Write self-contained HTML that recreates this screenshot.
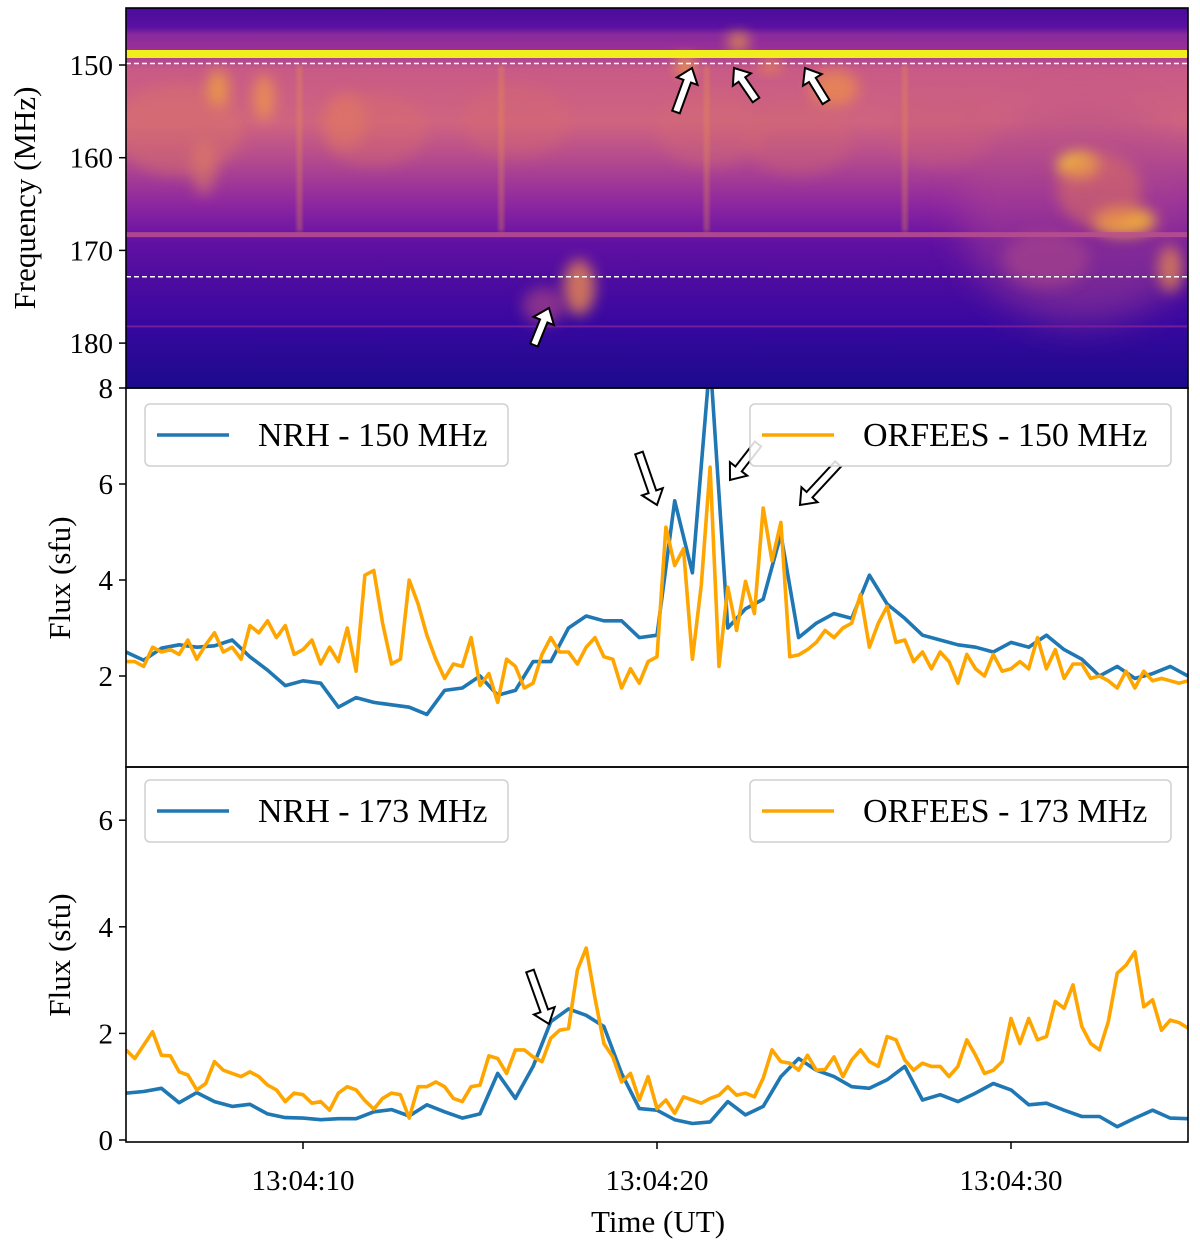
<!DOCTYPE html>
<html><head><meta charset="utf-8"><style>
html,body{margin:0;padding:0;background:#fff;}
svg{display:block;font-family:"Liberation Serif",serif;}
</style></head><body>
<svg id="fig" width="1200" height="1247" viewBox="0 0 1200 1247" xmlns="http://www.w3.org/2000/svg">
<defs>
<clipPath id="c1"><rect x="126" y="8" width="1062" height="380"/></clipPath>
<clipPath id="c2"><rect x="126" y="388" width="1062" height="379"/></clipPath>
<clipPath id="c3"><rect x="126" y="767" width="1062" height="375"/></clipPath>
<linearGradient id="specbg" x1="0" y1="0" x2="0" y2="1">
<stop offset="0" stop-color="#4a0c9c"/><stop offset="0.05" stop-color="#5a10a0"/>
<stop offset="0.07" stop-color="#8a2a9c"/><stop offset="0.11" stop-color="#9a3098"/>
<stop offset="0.16" stop-color="#c85a86"/><stop offset="0.3" stop-color="#cf6480"/>
<stop offset="0.4" stop-color="#b44a8e"/><stop offset="0.52" stop-color="#8c26a0"/>
<stop offset="0.59" stop-color="#7016a2"/><stop offset="0.62" stop-color="#6010a2"/>
<stop offset="0.72" stop-color="#4c0ca0"/><stop offset="0.82" stop-color="#3a08a0"/>
<stop offset="1" stop-color="#1c0a8c"/>
</linearGradient>
<filter id="blur" x="-50%" y="-50%" width="200%" height="200%"><feGaussianBlur stdDeviation="7"/></filter>
<filter id="blurL" x="-50%" y="-50%" width="200%" height="200%"><feGaussianBlur stdDeviation="18"/></filter>
<filter id="blur2" x="-50%" y="-50%" width="200%" height="200%"><feGaussianBlur stdDeviation="2"/></filter>
</defs>
<g id="spec" clip-path="url(#c1)"></g>
<g id="p2"></g>
<g id="p3"></g>
<g id="axes"></g>
</svg>
<script>
// ---- data ----
const tStart = 5;
const nrhDt = 0.5;
const orfDt = 0.25;
const nrh150 = [2.5,2.33,2.58,2.65,2.6,2.63,2.75,2.4,2.12,1.8,1.9,1.85,1.35,1.55,1.45,1.4,1.35,1.2,1.7,1.75,2.0,1.6,1.7,2.3,2.3,3.0,3.25,3.15,3.15,2.8,
2.85,5.65,4.15,8.6,3.0,3.4,3.6,4.95,2.8,3.1,3.3,3.2,4.1,3.5,3.2,2.85,2.75,2.65,2.6,2.5,2.7,2.6,2.85,2.55,2.35,2.0,2.2,1.95,2.05,2.2,2.0];
const orf150 = [2.3,2.3,2.2,2.6,2.5,2.55,2.45,2.75,2.35,2.65,2.9,2.5,2.6,2.35,3.05,2.9,3.15,2.8,3.05,2.45,
2.55,2.75,2.25,2.6,2.3,3.0,2.1,4.1,4.2,3.1,2.25,2.35,4.0,3.5,2.85,2.35,1.95,2.25,2.2,2.8,
1.8,2.05,1.45,2.35,2.2,1.75,1.85,2.45,2.8,2.5,2.5,2.25,2.6,2.8,2.4,2.35,1.75,2.15,1.85,2.3,
2.4,5.1,4.3,4.65,2.35,3.9,6.35,2.2,3.85,2.95,3.97,3.3,5.5,4.4,5.2,2.4,2.44,2.55,2.7,2.95,
2.8,3.0,3.1,3.7,2.6,3.1,3.45,2.7,2.75,2.3,2.5,2.15,2.5,2.3,1.85,2.45,2.15,2.0,2.45,2.1,
2.15,2.3,2.15,2.8,2.15,2.55,1.95,2.25,2.25,1.95,2.0,1.9,1.75,2.1,1.75,2.1,1.9,1.95,1.9,1.85,1.9];
const nrh173 = [0.88,0.91,0.97,0.7,0.89,0.72,0.63,0.67,0.49,0.42,0.41,0.38,0.4,0.4,0.53,0.57,0.45,0.66,0.53,0.41,0.49,1.25,0.78,1.38,2.22,2.46,2.34,2.13,1.25,0.59,
0.56,0.38,0.31,0.34,0.72,0.47,0.63,1.19,1.53,1.31,1.19,1.0,0.97,1.13,1.38,0.75,0.85,0.72,0.88,1.06,0.94,0.66,0.69,0.56,0.44,0.44,0.25,0.41,0.56,0.41,0.4];
const orf173 = [1.69,1.53,1.78,2.03,1.59,1.58,1.28,1.22,0.94,1.06,1.47,1.31,1.25,1.19,1.28,1.19,1.03,0.94,0.72,0.88,
0.85,0.69,0.72,0.56,0.88,1.0,0.94,0.74,0.58,0.78,0.88,0.85,0.41,1.0,1.0,1.09,1.0,0.78,0.72,1.0,
1.03,1.58,1.53,1.25,1.69,1.69,1.56,1.47,1.91,2.06,2.09,3.19,3.6,2.66,1.81,1.56,1.09,1.25,0.75,
1.19,0.59,0.75,0.5,0.81,0.75,0.69,0.78,0.84,1.0,0.84,0.88,0.81,1.16,1.69,1.47,1.44,1.31,1.59,1.31,1.32,
1.56,1.19,1.5,1.69,1.47,1.38,1.94,1.88,1.5,1.31,1.44,1.38,1.38,1.19,1.38,1.88,1.59,1.25,1.31,1.47,
2.28,1.81,2.28,1.88,1.94,2.6,2.47,2.91,2.13,1.81,1.69,2.22,3.13,3.28,3.53,2.5,2.63,2.06,2.25,2.2,2.1];
// spectrogram features: [time s, freq MHz, half-width s, half-height MHz, colour, opacity]
const specBlobs = [
 [6.5,157,1.8,5,"#dc7466",0.45],[7.6,152.5,0.3,2,"#f0a040",0.8],[8.9,153.5,0.3,2.5,"#f09848",0.75],[11.2,156,0.6,3,"#e88058",0.5],
 [7.2,161,0.35,3,"#e08060",0.55],[12,157,1.5,4,"#dc7068",0.35],[16,156,1.5,4,"#d86a6c",0.35],[17.8,174,0.45,3,"#ec8a50",0.8],
 [16.8,176,0.6,2,"#b84c80",0.6],[21.5,157,1.5,4,"#d46c70",0.35],[25,152.5,0.7,2,"#f09048",0.7],[24,158,1.5,4,"#d06870",0.35],
 [28,157,1.5,4,"#c85c7c",0.35],[31.9,160.8,0.6,1.4,"#f8c830",0.9],[33.2,166.8,0.9,1.6,"#f4b038",0.9],[32.5,163.5,1.2,4,"#dc7060",0.55],
 [34.5,172,0.35,2.5,"#e88850",0.75],[31,171,1.2,3,"#b04888",0.55],[20.8,150,0.25,1,"#f8b030",0.8],[22.3,147.5,0.3,1,"#f8b030",0.7],[23.2,150,0.3,0.8,"#f09040",0.7]
];
const specStreaks = [9.9,15.6,21.4,27.0];
const xTicks = [10,20,30];
const xTickLabels = ["13:04:10","13:04:20","13:04:30"];
const fTicks = [150,160,170,180];
const p2Ticks = [2,4,6,8];
const p3Ticks = [0,2,4,6];

// ---- scales ----
const X0=126, X1=1188;
const xs = t => X0 + (t-5)*(X1-X0)/30;
const fs = f => 65 + (f-150)*9.27;
const y2 = v => 676 - (v-2)*48;
const y3 = v => 1140 - v*53.3;
const NS="http://www.w3.org/2000/svg";
function mk(tag, attrs, parent){const e=document.createElementNS(NS,tag);for(const k in attrs)e.setAttribute(k,attrs[k]);parent.appendChild(e);return e;}

// ---- spectrogram ----
const spec=document.getElementById('spec');
const bg=mk('rect',{x:126,y:8,width:1062,height:380,fill:'url(#specbg)'},spec);


const right=mk('ellipse',{cx:xs(32),cy:fs(166),rx:120,ry:110,fill:'#b04a8c',opacity:0.45,filter:'url(#blurL)'},spec);


specBlobs.forEach(b=>{
 const e=mk('ellipse',{cx:xs(b[0]),cy:fs(b[1]),rx:b[2]*35.4,ry:b[3]*9.27,fill:b[4],opacity:b[5],filter:'url(#blur)'},spec);
 
 
});
specStreaks.forEach(t=>{
 const e=mk('rect',{x:xs(t)-2,y:fs(150),width:4,height:fs(168)-fs(150),fill:'#e8904c',opacity:0.5,filter:'url(#blur2)'},spec);
 
 
});
[[168.3,5,'#b8508e'],[178.2,2,'#7a229c']].forEach(h=>{
 const e=mk('rect',{x:126,y:fs(h[0])-h[1]/2,width:1062,height:h[1],fill:h[2],opacity:0.85},spec);
 
 
});
const yl=mk('rect',{x:126,y:50,width:1062,height:8,fill:'#f2ee1e'},spec);


[150,173].forEach(f=>{
 const e=mk('line',{x1:126,x2:1188,y1:fs(f)-1.5,y2:fs(f)-1.5,stroke:'#fff','stroke-width':1.5,'stroke-dasharray':'5,3'},spec);
 
 
});

function arrow(g,tx,ty,sx,sy,fill,name){
 const dx=tx-sx,dy=ty-sy,L=Math.hypot(dx,dy),ux=dx/L,uy=dy/L,px=-uy,py=ux;
 const hw=4,hh=11,hl=14;
 const bx=tx-ux*hl,by=ty-uy*hl;
 const pts=[[sx+px*hw,sy+py*hw],[bx+px*hw,by+py*hw],[bx+px*hh,by+py*hh],[tx,ty],[bx-px*hh,by-py*hh],[bx-px*hw,by-py*hw],[sx-px*hw,sy-py*hw]];
 const e=mk('polygon',{points:pts.map(p=>p.join(',')).join(' '),fill:fill,stroke:'#000','stroke-width':2,'stroke-linejoin':'miter'},g);
 
 
}
arrow(spec,692,68,676,112,'#fff','spectrogram-arrow-1');
arrow(spec,734,68,756,100,'#fff','spectrogram-arrow-2');
arrow(spec,805,68,826,102,'#fff','spectrogram-arrow-3');
arrow(spec,549,308,534,345,'#fff','spectrogram-arrow-4');

// ---- line panels ----
function series(g,arr,dt,ys,color,name){
 const d=arr.map((v,i)=>(i?'L':'M')+xs(tStart+i*dt).toFixed(1)+','+ys(v).toFixed(1)).join(' ');
 const e=mk('path',{d:d,fill:'none',stroke:color,'stroke-width':3.6,'stroke-linejoin':'round'},g);
 
 
}
const p2=document.getElementById('p2'), p3=document.getElementById('p3');
const g2=mk('g',{'clip-path':'url(#c2)'},p2), g3=mk('g',{'clip-path':'url(#c3)'},p3);
series(g2,nrh150,nrhDt,y2,'#1f77b4','nrh-150-line');
series(g2,orf150,orfDt,y2,'#ffa500','orfees-150-line');
series(g3,nrh173,nrhDt,y3,'#1f77b4','nrh-173-line');
series(g3,orf173,orfDt,y3,'#ffa500','orfees-173-line');
arrow(g2,657,505,639,453,'#fff','flux-arrow-1');
arrow(g2,730,480,758,444,'#fff','flux-arrow-2');
arrow(g2,800,505,838,464,'#fff','flux-arrow-3');
arrow(g3,549,1024,530,971,'#fff','flux-arrow-4');

function legend(g,x,y,w,color,label,name){
 const lg=mk('g',{},g);
 
 
 mk('rect',{x:x,y:y,width:w,height:62,rx:5,fill:'#fff','fill-opacity':0.85,stroke:'#d0d0d0','stroke-width':1.5},lg);
 mk('line',{x1:x+12,x2:x+84,y1:y+31,y2:y+31,stroke:color,'stroke-width':3.6},lg);
 const t=mk('text',{x:x+113,y:y+42,'font-size':34,fill:'#000'},lg);t.textContent=label;
}
legend(p2,145,404,363,'#1f77b4','NRH - 150 MHz','legend-nrh-150');
legend(p2,750,404,421,'#ffa500','ORFEES - 150 MHz','legend-orfees-150');
legend(p3,145,780,363,'#1f77b4','NRH - 173 MHz','legend-nrh-173');
legend(p3,750,780,421,'#ffa500','ORFEES - 173 MHz','legend-orfees-173');

// ---- axes ----
const ax=document.getElementById('axes');
[[8,388],[388,767],[767,1142]].forEach((r,i)=>{
 const e=mk('rect',{x:126,y:r[0],width:1062,height:r[1]-r[0],fill:'none',stroke:'#000','stroke-width':1.6},ax);
 
 
});
function ytick(y,label,name){
 mk('line',{x1:119,x2:126,y1:y,y2:y,stroke:'#000','stroke-width':1.5},ax);
 const t=mk('text',{x:113,y:y+10,'font-size':29,'text-anchor':'end'},ax);t.textContent=label;
 
 
}
fTicks.forEach(f=>ytick(fs(f),f,'freq-tick-label'));
p2Ticks.forEach(v=>ytick(y2(v),v,'flux150-tick-label'));
p3Ticks.forEach(v=>ytick(y3(v),v,'flux173-tick-label'));
xTicks.forEach((t,i)=>{
 mk('line',{x1:xs(t),x2:xs(t),y1:1142,y2:1149,stroke:'#000','stroke-width':1.5},ax);
 const e=mk('text',{x:xs(t),y:1190,'font-size':29,'text-anchor':'middle'},ax);e.textContent=xTickLabels[i];
 
 
});
function lbl(x,y,rot,txt,name){
 const e=mk('text',{x:x,y:y,'font-size':31,'text-anchor':'middle',transform:rot?`rotate(-90 ${x} ${y})`:''},ax);
 e.textContent=txt;
 
 
}
lbl(35,198,true,'Frequency (MHz)','y-axis-title-frequency');
lbl(70,578,true,'Flux (sfu)','y-axis-title-flux-150');
lbl(70,955,true,'Flux (sfu)','y-axis-title-flux-173');
lbl(658,1232,false,'Time (UT)','x-axis-title');
</script>
</body></html>
